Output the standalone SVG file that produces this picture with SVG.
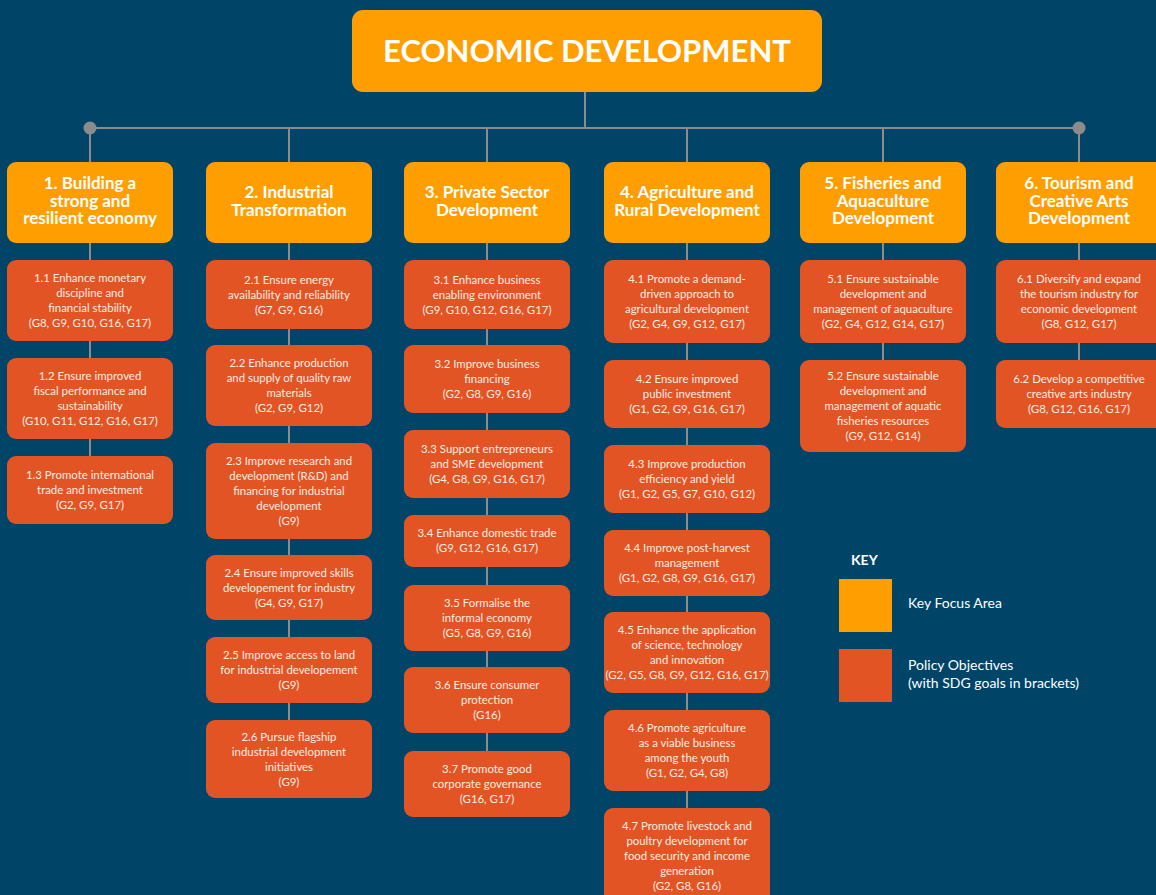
<svg xmlns="http://www.w3.org/2000/svg" width="1156" height="895" viewBox="0 0 1156 895">
<style>
.bg{fill:#004568}
.ln{stroke:#8c8c8c;stroke-width:2;fill:none}
.dot{fill:#8c8c8c}
.kfa{fill:#FF9E00}
.po{fill:#E25423}
.t{font-family:Lato,"Open Sans","Liberation Sans",sans-serif;text-anchor:middle}
.title{font-size:31px;font-weight:700;fill:#ffffff}
.hd{font-size:17px;font-weight:700;fill:#ffffff}
.ch{font-size:11.4px;fill:#FDEDE4}
.lg{font-family:Lato,"Open Sans","Liberation Sans",sans-serif;font-size:14px;fill:#ffffff}
</style>
<rect class="bg" x="0" y="0" width="1156" height="895"/>
<g id="connectors">
<line class="ln" x1="585" y1="92" x2="585" y2="128"/>
<line class="ln" x1="90" y1="128" x2="1079" y2="128"/>
<circle class="dot" cx="90" cy="128" r="6.5"/>
<circle class="dot" cx="1079" cy="128" r="6.5"/>
<line class="ln" x1="90" y1="128" x2="90" y2="460"/>
<line class="ln" x1="289" y1="128" x2="289" y2="725"/>
<line class="ln" x1="487" y1="128" x2="487" y2="755"/>
<line class="ln" x1="687" y1="128" x2="687" y2="812"/>
<line class="ln" x1="883" y1="128" x2="883" y2="365"/>
<line class="ln" x1="1079" y1="128" x2="1079" y2="365"/>
</g>
<g id="title">
<rect class="kfa" x="352" y="10" width="470" height="82" rx="11"/>
<text class="t title" x="587" y="62">ECONOMIC DEVELOPMENT</text>
</g>
<g id="area1">
<rect class="kfa" x="7" y="162" width="166" height="81" rx="9"/>
<text class="t hd" x="90" y="189"><tspan x="90">1. Building a</tspan><tspan x="90" dy="17.5">strong and</tspan><tspan x="90" dy="17.5">resilient economy</tspan></text>
</g>
<g id="area2">
<rect class="kfa" x="206" y="162" width="166" height="81" rx="9"/>
<text class="t hd" x="289" y="198"><tspan x="289">2. Industrial</tspan><tspan x="289" dy="17.5">Transformation</tspan></text>
</g>
<g id="area3">
<rect class="kfa" x="404" y="162" width="166" height="81" rx="9"/>
<text class="t hd" x="487" y="198"><tspan x="487">3. Private Sector</tspan><tspan x="487" dy="17.5">Development</tspan></text>
</g>
<g id="area4">
<rect class="kfa" x="604" y="162" width="166" height="81" rx="9"/>
<text class="t hd" x="687" y="198"><tspan x="687">4. Agriculture and</tspan><tspan x="687" dy="17.5">Rural Development</tspan></text>
</g>
<g id="area5">
<rect class="kfa" x="800" y="162" width="166" height="81" rx="9"/>
<text class="t hd" x="883" y="189"><tspan x="883">5. Fisheries and</tspan><tspan x="883" dy="17.5">Aquaculture</tspan><tspan x="883" dy="17.5">Development</tspan></text>
</g>
<g id="area6">
<rect class="kfa" x="996" y="162" width="168" height="81" rx="9"/>
<text class="t hd" x="1079" y="189"><tspan x="1079">6. Tourism and</tspan><tspan x="1079" dy="17.5">Creative Arts</tspan><tspan x="1079" dy="17.5">Development</tspan></text>
</g>
<g id="obj1-1"><rect class="po" x="7" y="260" width="166" height="81" rx="9"/>
<text class="t ch" y="282"><tspan x="90">1.1 Enhance monetary</tspan><tspan x="90" dy="15">discipline and</tspan><tspan x="90" dy="15">financial stability</tspan><tspan x="90" dy="15">(G8, G9, G10, G16, G17)</tspan></text></g>
<g id="obj1-2"><rect class="po" x="7" y="358" width="166" height="81" rx="9"/>
<text class="t ch" y="380"><tspan x="90">1.2 Ensure improved</tspan><tspan x="90" dy="15">fiscal performance and</tspan><tspan x="90" dy="15">sustainability</tspan><tspan x="90" dy="15">(G10, G11, G12, G16, G17)</tspan></text></g>
<g id="obj1-3"><rect class="po" x="7" y="456" width="166" height="68" rx="9"/>
<text class="t ch" y="479"><tspan x="90">1.3 Promote international</tspan><tspan x="90" dy="15">trade and investment</tspan><tspan x="90" dy="15">(G2, G9, G17)</tspan></text></g>
<g id="obj2-1"><rect class="po" x="206" y="260" width="166" height="69" rx="9"/>
<text class="t ch" y="283.5"><tspan x="289">2.1 Ensure energy</tspan><tspan x="289" dy="15">availability and reliability</tspan><tspan x="289" dy="15">(G7, G9, G16)</tspan></text></g>
<g id="obj2-2"><rect class="po" x="206" y="345" width="166" height="81" rx="9"/>
<text class="t ch" y="367"><tspan x="289">2.2 Enhance production</tspan><tspan x="289" dy="15">and supply of quality raw</tspan><tspan x="289" dy="15">materials</tspan><tspan x="289" dy="15">(G2, G9, G12)</tspan></text></g>
<g id="obj2-3"><rect class="po" x="206" y="443" width="166" height="96" rx="9"/>
<text class="t ch" y="465"><tspan x="289">2.3 Improve research and</tspan><tspan x="289" dy="15">development (R&amp;D) and</tspan><tspan x="289" dy="15">financing for industrial</tspan><tspan x="289" dy="15">development</tspan><tspan x="289" dy="15">(G9)</tspan></text></g>
<g id="obj2-4"><rect class="po" x="206" y="555" width="166" height="65" rx="9"/>
<text class="t ch" y="576.5"><tspan x="289">2.4 Ensure improved skills</tspan><tspan x="289" dy="15">developement for industry</tspan><tspan x="289" dy="15">(G4, G9, G17)</tspan></text></g>
<g id="obj2-5"><rect class="po" x="206" y="637" width="166" height="66" rx="9"/>
<text class="t ch" y="659"><tspan x="289">2.5 Improve access to land</tspan><tspan x="289" dy="15">for industrial developement</tspan><tspan x="289" dy="15">(G9)</tspan></text></g>
<g id="obj2-6"><rect class="po" x="206" y="720" width="166" height="78" rx="9"/>
<text class="t ch" y="740.5"><tspan x="289">2.6 Pursue flagship</tspan><tspan x="289" dy="15">industrial development</tspan><tspan x="289" dy="15">initiatives</tspan><tspan x="289" dy="15">(G9)</tspan></text></g>
<g id="obj3-1"><rect class="po" x="404" y="260" width="166" height="69" rx="9"/>
<text class="t ch" y="283.5"><tspan x="487">3.1 Enhance business</tspan><tspan x="487" dy="15">enabling environment</tspan><tspan x="487" dy="15">(G9, G10, G12, G16, G17)</tspan></text></g>
<g id="obj3-2"><rect class="po" x="404" y="345" width="166" height="68" rx="9"/>
<text class="t ch" y="368"><tspan x="487">3.2 Improve business</tspan><tspan x="487" dy="15">financing</tspan><tspan x="487" dy="15">(G2, G8, G9, G16)</tspan></text></g>
<g id="obj3-3"><rect class="po" x="404" y="430" width="166" height="68" rx="9"/>
<text class="t ch" y="453"><tspan x="487">3.3 Support entrepreneurs</tspan><tspan x="487" dy="15">and SME development</tspan><tspan x="487" dy="15">(G4, G8, G9, G16, G17)</tspan></text></g>
<g id="obj3-4"><rect class="po" x="404" y="515" width="166" height="52" rx="9"/>
<text class="t ch" y="537"><tspan x="487">3.4 Enhance domestic trade</tspan><tspan x="487" dy="15">(G9, G12, G16, G17)</tspan></text></g>
<g id="obj3-5"><rect class="po" x="404" y="585" width="166" height="66" rx="9"/>
<text class="t ch" y="607"><tspan x="487">3.5 Formalise the</tspan><tspan x="487" dy="15">informal economy</tspan><tspan x="487" dy="15">(G5, G8, G9, G16)</tspan></text></g>
<g id="obj3-6"><rect class="po" x="404" y="667" width="166" height="66" rx="9"/>
<text class="t ch" y="689"><tspan x="487">3.6 Ensure consumer</tspan><tspan x="487" dy="15">protection</tspan><tspan x="487" dy="15">(G16)</tspan></text></g>
<g id="obj3-7"><rect class="po" x="404" y="751" width="166" height="66" rx="9"/>
<text class="t ch" y="773"><tspan x="487">3.7 Promote good</tspan><tspan x="487" dy="15">corporate governance</tspan><tspan x="487" dy="15">(G16, G17)</tspan></text></g>
<g id="obj4-1"><rect class="po" x="604" y="260" width="166" height="83" rx="9"/>
<text class="t ch" y="283"><tspan x="687">4.1 Promote a demand-</tspan><tspan x="687" dy="15">driven approach to</tspan><tspan x="687" dy="15">agricultural development</tspan><tspan x="687" dy="15">(G2, G4, G9, G12, G17)</tspan></text></g>
<g id="obj4-2"><rect class="po" x="604" y="360" width="166" height="68" rx="9"/>
<text class="t ch" y="383"><tspan x="687">4.2 Ensure improved</tspan><tspan x="687" dy="15">public investment</tspan><tspan x="687" dy="15">(G1, G2, G9, G16, G17)</tspan></text></g>
<g id="obj4-3"><rect class="po" x="604" y="445" width="166" height="68" rx="9"/>
<text class="t ch" y="468"><tspan x="687">4.3 Improve production</tspan><tspan x="687" dy="15">efficiency and yield</tspan><tspan x="687" dy="15">(G1, G2, G5, G7, G10, G12)</tspan></text></g>
<g id="obj4-4"><rect class="po" x="604" y="530" width="166" height="66" rx="9"/>
<text class="t ch" y="552"><tspan x="687">4.4 Improve post-harvest</tspan><tspan x="687" dy="15">management</tspan><tspan x="687" dy="15">(G1, G2, G8, G9, G16, G17)</tspan></text></g>
<g id="obj4-5"><rect class="po" x="604" y="612" width="166" height="81" rx="9"/>
<text class="t ch" y="634"><tspan x="687">4.5 Enhance the application</tspan><tspan x="687" dy="15">of science, technology</tspan><tspan x="687" dy="15">and innovation</tspan><tspan x="687" dy="15">(G2, G5, G8, G9, G12, G16, G17)</tspan></text></g>
<g id="obj4-6"><rect class="po" x="604" y="710" width="166" height="81" rx="9"/>
<text class="t ch" y="732"><tspan x="687">4.6 Promote agriculture</tspan><tspan x="687" dy="15">as a viable business</tspan><tspan x="687" dy="15">among the youth</tspan><tspan x="687" dy="15">(G1, G2, G4, G8)</tspan></text></g>
<g id="obj4-7"><rect class="po" x="604" y="808" width="166" height="100" rx="9"/>
<text class="t ch" y="830"><tspan x="687">4.7 Promote livestock and</tspan><tspan x="687" dy="15">poultry development for</tspan><tspan x="687" dy="15">food security and income</tspan><tspan x="687" dy="15">generation</tspan><tspan x="687" dy="15">(G2, G8, G16)</tspan></text></g>
<g id="obj5-1"><rect class="po" x="800" y="260" width="166" height="83" rx="9"/>
<text class="t ch" y="283"><tspan x="883">5.1 Ensure sustainable</tspan><tspan x="883" dy="15">development and</tspan><tspan x="883" dy="15">management of aquaculture</tspan><tspan x="883" dy="15">(G2, G4, G12, G14, G17)</tspan></text></g>
<g id="obj5-2"><rect class="po" x="800" y="360" width="166" height="92" rx="9"/>
<text class="t ch" y="380"><tspan x="883">5.2 Ensure sustainable</tspan><tspan x="883" dy="15">development and</tspan><tspan x="883" dy="15">management of aquatic</tspan><tspan x="883" dy="15">fisheries resources</tspan><tspan x="883" dy="15">(G9, G12, G14)</tspan></text></g>
<g id="obj6-1"><rect class="po" x="996" y="260" width="168" height="83" rx="9"/>
<text class="t ch" y="283"><tspan x="1079">6.1 Diversify and expand</tspan><tspan x="1079" dy="15">the tourism industry for</tspan><tspan x="1079" dy="15">economic development</tspan><tspan x="1079" dy="15">(G8, G12, G17)</tspan></text></g>
<g id="obj6-2"><rect class="po" x="996" y="360" width="168" height="68" rx="9"/>
<text class="t ch" y="383"><tspan x="1079">6.2 Develop a competitive</tspan><tspan x="1079" dy="15">creative arts industry</tspan><tspan x="1079" dy="15">(G8, G12, G16, G17)</tspan></text></g>
<g id="key">
<text class="lg" x="851" y="565" font-weight="700" font-size="15">KEY</text>
<rect class="kfa" x="839" y="579" width="53" height="53"/>
<text class="lg" x="908" y="608">Key Focus Area</text>
<rect class="po" x="839" y="649" width="53" height="53"/>
<text class="lg" x="908" y="670">Policy Objectives</text>
<text class="lg" x="908" y="688">(with SDG goals in brackets)</text>
</g>
</svg>
